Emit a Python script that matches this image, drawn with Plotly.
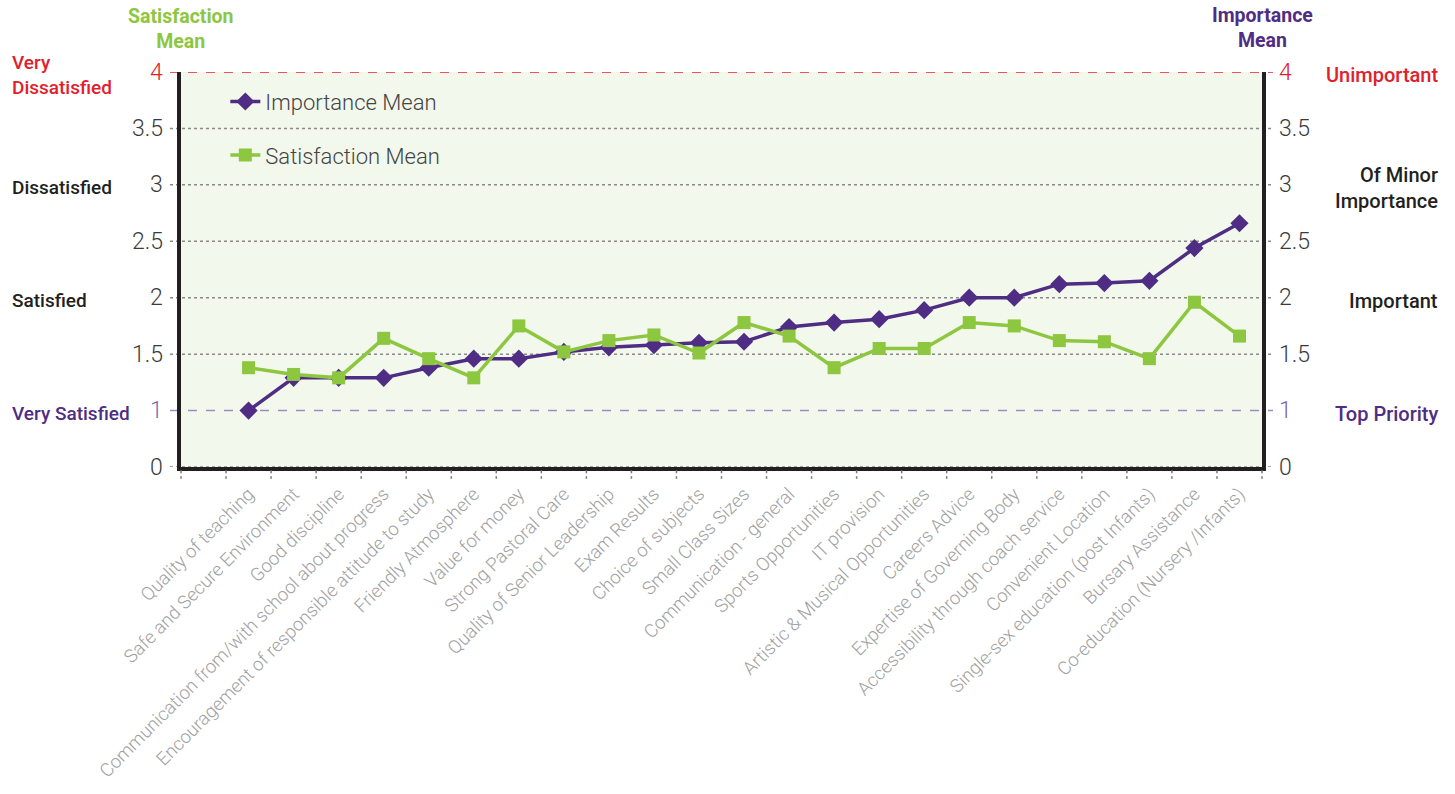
import plotly.graph_objects as go

categories = [
    "Quality of teaching", "Safe and Secure Environment", "Good discipline",
    "Communication from/with school about progress",
    "Encouragement of responsible attitude to study", "Friendly Atmosphere",
    "Value for money", "Strong Pastoral Care", "Quality of Senior Leadership",
    "Exam Results", "Choice of subjects", "Small Class Sizes",
    "Communication - general", "Sports Opportunities", "IT provision",
    "Artistic & Musical Opportunities", "Careers Advice",
    "Expertise of Governing Body", "Accessibility through coach service",
    "Convenient Location", "Single-sex education (post Infants)",
    "Bursary Assistance", "Co-education (Nursery /Infants)",
]
importance_mean = [1.00, 1.29, 1.29, 1.29, 1.38, 1.46, 1.46, 1.52, 1.56, 1.58,
                   1.60, 1.61, 1.74, 1.78, 1.81, 1.89, 2.00, 2.00, 2.12, 2.13,
                   2.15, 2.44, 2.66]
satisfaction_mean = [1.38, 1.32, 1.29, 1.64, 1.46, 1.29, 1.75, 1.52, 1.62, 1.67,
                     1.51, 1.78, 1.66, 1.38, 1.55, 1.55, 1.78, 1.75, 1.62, 1.61,
                     1.46, 1.96, 1.66]

tick_vals = [0.5, 1, 1.5, 2, 2.5, 3, 3.5, 4]
tick_text = ["0", "1", "1.5", "2", "2.5", "3", "3.5", "4"]
left_labels = {4: "Very<br>Dissatisfied", 3: "Dissatisfied", 2: "Satisfied", 1: "Very Satisfied"}
right_labels = {4: "Unimportant", 3: "Of Minor<br>Importance", 2: "Important", 1: "Top Priority"}

PURPLE = "#4f2d84"
GREEN = "#8dc63f"
RED = "#e2202c"
PURPLE_LIGHT = "#9f8cc4"
DARK = "#231f20"
FONT = "Roboto"

W, H = 1455, 794
ML, MR, MT, MB = 181, 193, 72, 325
PW = W - ML - MR
PH = H - MT - MB

n = len(categories)
xs = list(range(n))
xmin, xmax = -1.5, n - 0.5

fig = go.Figure()
fig.add_trace(go.Scatter(
    x=xs, y=importance_mean, name="Importance Mean", mode="lines+markers",
    line=dict(color=PURPLE, width=3.5),
    marker=dict(symbol="diamond", size=14, color=PURPLE),
    legendgroup="a",
))
fig.add_trace(go.Scatter(
    x=xs, y=satisfaction_mean, name="Satisfaction Mean", mode="lines+markers",
    line=dict(color=GREEN, width=3.5),
    marker=dict(symbol="square", size=13, color=GREEN),
    legendgroup="b",
))

shapes = []
ext = 11 / PW
for v in tick_vals:
    if v == 4:
        col, dash, wd = RED, "dash", 1.3
    elif v == 1:
        col, dash, wd = PURPLE_LIGHT, "dash", 1.6
    else:
        col, dash, wd = "#8a8a8a", "dot", 1.5
    shapes.append(dict(type="line", xref="paper", yref="y", x0=-ext, x1=1 + ext,
                       y0=v, y1=v, line=dict(color=col, width=wd, dash=dash),
                       layer="below"))
# dotted category boundary ticks
for k in range(n + 2):
    b = xmin + k
    px = (b - xmin) / (xmax - xmin)
    shapes.append(dict(type="line", xref="paper", yref="paper", x0=px, x1=px,
                       y0=-0.008, y1=-0.03, line=dict(color="#777", width=1.5, dash="dot")))

annotations = []
for v, t in zip(tick_vals, tick_text):
    col = RED if v == 4 else ("#7a64ad" if v == 1 else "#3a3a3a")
    annotations.append(dict(xref="paper", yref="y", x=-16 / PW, y=v, text=t,
                            showarrow=False, xanchor="right", yanchor="middle",
                            font=dict(family=FONT, size=23, color=col, weight=300)))
    annotations.append(dict(xref="paper", yref="y", x=1 + 15 / PW, y=v, text=t,
                            showarrow=False, xanchor="left", yanchor="middle",
                            font=dict(family=FONT, size=23, color=col, weight=300)))
for v, t in left_labels.items():
    col = RED if v == 4 else (PURPLE if v == 1 else DARK)
    annotations.append(dict(xref="paper", yref="y", x=-(ML - 10) / PW, y=v, text=t,
                            showarrow=False, xanchor="left", yanchor="middle", align="left",
                            yshift=-3,
                            font=dict(family=FONT, size=19, color=col, weight=500)))
for v, t in right_labels.items():
    col = RED if v == 4 else (PURPLE if v == 1 else DARK)
    annotations.append(dict(xref="paper", yref="y", x=1 + (MR - 15) / PW, y=v, text=t,
                            showarrow=False, xanchor="right", yanchor="middle", align="right",
                            yshift=-3,
                            font=dict(family=FONT, size=20, color=col, weight=500)))
annotations.append(dict(xref="paper", yref="paper", x=0, y=1 + MT / PH, yshift=-3,
                        text="Satisfaction<br>Mean", showarrow=False, xanchor="center",
                        yanchor="top", align="center",
                        font=dict(family=FONT, size=19.5, color=GREEN, weight=700)))
annotations.append(dict(xref="paper", yref="paper", x=1, y=1 + MT / PH, yshift=-2,
                        text="Importance<br>Mean", showarrow=False, xanchor="center",
                        yanchor="top", align="center",
                        font=dict(family=FONT, size=19.5, color=PURPLE, weight=700)))

fig.update_layout(
    width=W, height=H,
    margin=dict(l=ML, r=MR, t=MT, b=MB),
    paper_bgcolor="white",
    plot_bgcolor="#f2f8ec",
    font=dict(family=FONT),
    showlegend=True,
    legend=dict(x=0.041, y=0.978, xanchor="left", yanchor="top",
                bgcolor="rgba(0,0,0,0)", tracegroupgap=22,
                font=dict(family=FONT, size=22, color="#444", weight=300)),
    xaxis=dict(range=[xmin, xmax], tickmode="array", tickvals=xs, ticktext=categories,
               tickangle=-45, showgrid=False, zeroline=False, ticks="",
               ticklabelstandoff=5,
               showline=True, linecolor=DARK, linewidth=4,
               tickfont=dict(family=FONT, size=18.5, color="#a0a0a0", weight=300)),
    yaxis=dict(range=[0.5, 4], showgrid=False, zeroline=False, showticklabels=False,
               ticks="", showline=True, linecolor=DARK, linewidth=4, mirror=True),
    shapes=shapes,
    annotations=annotations,
)

fig.write_html("out.html", config={"displayModeBar": False},
               post_script="document.body.style.margin='0px';")
